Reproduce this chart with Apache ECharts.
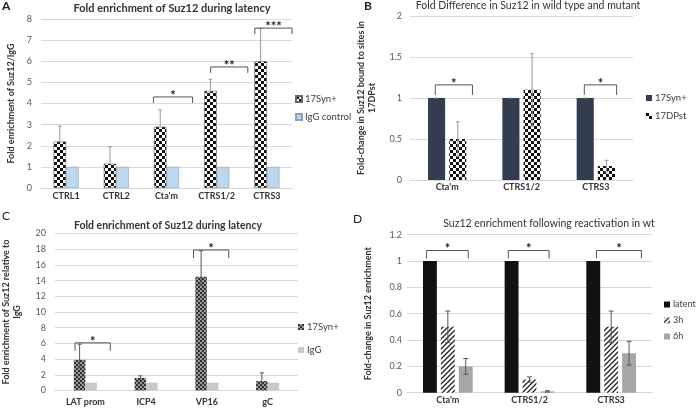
<!DOCTYPE html>
<html><head><meta charset="utf-8">
<script src="https://cdn.jsdelivr.net/npm/echarts@6/dist/echarts.min.js"></script>
<style>html,body{margin:0;padding:0;background:#fff}#c{width:696px;height:411px}</style>
</head><body><div id="c"></div>
<script>
// ---------- DATA ----------
const catsA = ['CTRL1', 'CTRL2', "Cta'm", 'CTRS1/2', 'CTRS3'];
const aSyn = [2.2, 1.15, 2.9, 4.6, 6.0];
const aSynHigh = [2.93, 1.95, 3.7, 5.15, 7.55];
const aIgg = [1, 1, 1, 1, 1];
const aTicks = [0, 8, 1];
const bracketsA = [[2, 4.31, '*'], [3, 5.73, '**'], [4, 7.57, '***']];

const catsB = ["Cta'm", 'CTRS1/2', 'CTRS3'];
const bSyn = [1, 1, 1];
const bDpst = [0.5, 1.1, 0.17];
const bDpstLow = [0.29, 0.66, 0.10];
const bDpstHigh = [0.71, 1.54, 0.24];
const bTicks = [0, 2, 0.5];
const bracketsB = [[0, 1.16, '*'], [2, 1.16, '*']];

const catsC = ['LAT prom', 'ICP4', 'VP16', 'gC'];
const cSyn = [3.9, 1.6, 14.5, 1.2];
const cSynLow = [2.9, 1.3, 13.4, 0.2];
const cSynHigh = [5.9, 1.87, 17.8, 2.25];
const cIgg = [1, 1, 1, 1];
const cTicks = [0, 20, 2];
const bracketsC = [[0, 6.07, '*'], [2, 17.9, '*']];

const catsD = ["Cta'm", 'CTRS1/2', 'CTRS3'];
const dLatent = [1, 1, 1];
const d3h = [0.5, 0.1, 0.5];
const d3hLow = [0.38, 0.08, 0.38];
const d3hHigh = [0.62, 0.12, 0.62];
const d6h = [0.2, 0.01, 0.3];
const d6hLow = [0.14, 0.005, 0.21];
const d6hHigh = [0.26, 0.015, 0.39];
const dTicks = [0, 1.2, 0.2];
const bracketsD = [[0, 1.08, '*'], [1, 1.08, '*'], [2, 1.08, '*']];

// bracket horizontal spans (fraction of category band, relative to centre)
const spanA = [[-0.26, 0.52], [-0.12, 0.62], [-0.24, 0.5]];
const spanB = [[-0.16, 0.34], [-0.155, 0.28]];
const spanC = [[-0.17, 0.41], [-0.22, 0.36]];
const spanD = [[-0.26, 0.25], [-0.26, 0.24], [-0.18, 0.37]];

// ---------- STYLE HELPERS ----------
const FONT = 'Lato';
function checker(a, b, s) {
  const c = document.createElement('canvas'); c.width = c.height = 2 * s;
  const x = c.getContext('2d'); x.fillStyle = a; x.fillRect(0, 0, 2 * s, 2 * s);
  x.fillStyle = b; x.fillRect(0, 0, s, s); x.fillRect(s, s, s, s); return c;
}
function hatch() {
  const s = 5, c = document.createElement('canvas'); c.width = c.height = s;
  const x = c.getContext('2d'); x.fillStyle = '#fff'; x.fillRect(0, 0, s, s);
  x.strokeStyle = '#222'; x.lineWidth = 1.3;
  [[0, s, s, 0], [-1, 1, 1, -1], [s - 1, s + 1, s + 1, s - 1]].forEach(l => {
    x.beginPath(); x.moveTo(l[0], l[1]); x.lineTo(l[2], l[3]); x.stroke();
  });
  return c;
}
const patA = { image: checker('#ffffff', '#111111', 3), repeat: 'repeat' };
const patB = { image: checker('#ffffff', '#111111', 3), repeat: 'repeat' };
const patC = { image: checker('#9a9a9a', '#333333', 2), repeat: 'repeat' };
const patD = { image: hatch(), repeat: 'repeat' };

function errSeries(g, idx, n, wPct, gap, lows, highs, color, bottomCap, cap) {
  return {
    type: 'custom', xAxisIndex: g, yAxisIndex: g, z: 5, silent: true,
    data: lows.map((l, i) => [i, l, highs[i]]),
    encode: { x: 0, y: [1, 2] },
    renderItem: function (params, api) {
      const i = api.value(0), lo = api.value(1), hi = api.value(2);
      const band = api.size([1, 0])[0];
      const w = band * wPct, gg = w * gap, tot = n * w + (n - 1) * gg;
      const pH = api.coord([i, hi]);
      const cx = pH[0] - tot / 2 + idx * (w + gg) + w / 2;
      const yH = pH[1], yL = api.coord([i, lo])[1];
      const st = { stroke: color, lineWidth: 1 };
      const ch = [
        { type: 'line', shape: { x1: cx, y1: yL, x2: cx, y2: yH }, style: st },
        { type: 'line', shape: { x1: cx - cap, y1: yH, x2: cx + cap, y2: yH }, style: st }
      ];
      if (bottomCap) ch.push({ type: 'line', shape: { x1: cx - cap, y1: yL, x2: cx + cap, y2: yL }, style: st });
      return { type: 'group', children: ch };
    }
  };
}
function bracketSeries(g, list, spans, leg) {
  return {
    type: 'custom', xAxisIndex: g, yAxisIndex: g, z: 6, silent: true,
    data: list.map(b => [b[0], b[1]]),
    encode: { x: 0, y: 1 },
    renderItem: function (params, api) {
      const k = params.dataIndex;
      const band = api.size([1, 0])[0];
      const p = api.coord([api.value(0), api.value(1)]);
      const x0 = p[0] + spans[k][0] * band, x1 = p[0] + spans[k][1] * band, y = p[1];
      return { type: 'group', children: [
        { type: 'polyline', shape: { points: [[x0, y + leg], [x0, y], [x1, y], [x1, y + leg]] },
          style: { stroke: '#555', lineWidth: 1, fill: null } },
        { type: 'text', style: { text: list[k][2], x: (x0 + x1) / 2, y: y + 5, textAlign: 'center',
          textVerticalAlign: 'bottom', font: 'bold 13px ' + FONT, fill: '#222' } }
      ] };
    }
  };
}
function xAx(g, data, margin) {
  return { type: 'category', gridIndex: g, data: data, axisTick: { show: false },
    axisLine: { lineStyle: { color: '#d9d9d9' } },
    axisLabel: { margin: margin, fontFamily: FONT, fontWeight: 'bold', fontSize: 9, color: '#333' } };
}
function yAx(g, t, name, gap, margin) {
  return { type: 'value', gridIndex: g, min: t[0], max: t[1], interval: t[2],
    axisLine: { show: false }, axisTick: { show: false },
    splitLine: { lineStyle: { color: '#d9d9d9' } },
    axisLabel: { margin: margin, fontFamily: FONT, fontSize: 9, color: '#595959' },
    name: name, nameLocation: 'middle', nameGap: gap,
    nameTextStyle: { fontFamily: FONT, fontWeight: 'bold', fontSize: 9, color: '#333', lineHeight: 11 } };
}
function bar(g, name, data, color, w, gap, border) {
  return { type: 'bar', name: name, xAxisIndex: g, yAxisIndex: g, data: data, barWidth: w, barGap: gap,
    itemStyle: { color: color, borderColor: border || 'transparent', borderWidth: border ? 0.6 : 0 } };
}
const stripName = { formatter: n => n.split('|')[1] };
function legend(left, top, names, gap, fs) {
  return Object.assign({ orient: 'vertical', left: left, top: top, data: names, itemGap: gap,
    itemWidth: 6, itemHeight: 6, icon: 'rect', padding: 0, selectedMode: false,
    textStyle: { fontFamily: FONT, fontSize: fs, color: '#404040', padding: [0, 0, 0, -2] } }, stripName);
}

const option = {
  animation: false,
  title: [
    { text: 'Fold enrichment of Suz12 during latency', left: 172, top: 3, textAlign: 'center', padding: 0,
      textStyle: { fontFamily: FONT, fontWeight: 'bold', fontSize: 11, color: '#333' } },
    { text: 'Fold Difference in Suz12 in wild type and mutant', left: 528, top: 0, textAlign: 'center', padding: 0,
      textStyle: { fontFamily: FONT, fontWeight: 'normal', fontSize: 10.5, color: '#333' } },
    { text: 'Fold enrichment of Suz12 during latency', left: 168, top: 220, textAlign: 'center', padding: 0,
      textStyle: { fontFamily: FONT, fontWeight: 'bold', fontSize: 10.5, color: '#333' } },
    { text: 'Suz12 enrichment following reactivation in wt', left: 549, top: 218, textAlign: 'center', padding: 0,
      textStyle: { fontFamily: FONT, fontWeight: 'normal', fontSize: 10.5, color: '#333' } },
    { text: 'A', left: 2, top: 0, padding: 0, textStyle: { fontFamily: FONT, fontWeight: 'bold', fontSize: 12, color: '#222' } },
    { text: 'B', left: 364, top: 0, padding: 0, textStyle: { fontFamily: FONT, fontWeight: 'bold', fontSize: 12, color: '#222' } },
    { text: 'C', left: 2, top: 210, padding: 0, textStyle: { fontFamily: FONT, fontWeight: 'normal', fontSize: 12, color: '#222' } },
    { text: 'D', left: 353, top: 213, padding: 0, textStyle: { fontFamily: FONT, fontWeight: 'normal', fontSize: 12, color: '#222' } }
  ],
  grid: [
    { left: 41, top: 19, width: 251, height: 169 },
    { left: 410, top: 16, width: 223, height: 164 },
    { left: 44, top: 233.5, width: 254, height: 157 },
    { left: 407, top: 234.7, width: 245, height: 158 }
  ],
  xAxis: [xAx(0, catsA, 4), xAx(1, catsB, 3), xAx(2, catsC, 7), xAx(3, catsD, 3)],
  yAxis: [
    yAx(0, aTicks, 'Fold enrichment of Suz12/IgG', 24, 9),
    yAx(1, bTicks, 'Fold-change in Suz12 bound to sites in\n17DPst', 32, 8),
    yAx(2, cTicks, 'Fold enrichment of Suz12 relative to\nIgG', 32, 9),
    yAx(3, dTicks, 'Fold-change in Suz12 enrichment', 33, 5)
  ],
  legend: [
    legend(295, 94, ['A|17Syn+', 'A|IgG control'], 8, 9.5),
    legend(646, 93, ['B|17Syn+', 'B|17DPst'], 8, 9.5),
    legend(298, 322, ['C|17Syn+', 'C|IgG'], 13, 9.5),
    legend(664, 300, ['D|latent', 'D|3h', 'D|6h'], 7, 9)
  ],
  series: [
    bar(0, 'A|17Syn+', aSyn, patA, '25%', '0%', '#666'),
    bar(0, 'A|IgG control', aIgg, '#bdd7ee', '25%', '0%', '#8c9fb3'),
    errSeries(0, 0, 2, 0.25, 0, aSyn, aSynHigh, '#999', false, 2),
    bracketSeries(0, bracketsA, spanA, 6),

    bar(1, 'B|17Syn+', bSyn, '#323e4f', '23%', '24%'),
    bar(1, 'B|17DPst', bDpst, patB, '23%', '24%'),
    errSeries(1, 0, 2, 0.23, 0.24, bSyn, bSyn, '#999', false, 2),
    errSeries(1, 1, 2, 0.23, 0.24, bDpstLow, bDpstHigh, '#999', true, 2),
    bracketSeries(1, bracketsB, spanB, 10),

    bar(2, 'C|17Syn+', cSyn, patC, '19%', '0%'),
    bar(2, 'C|IgG', cIgg, '#c8c8c8', '19%', '0%'),
    errSeries(2, 0, 2, 0.19, 0, cSynLow, cSynHigh, '#555', true, 2),
    bracketSeries(2, bracketsC, spanC, 8),

    bar(3, 'D|latent', dLatent, '#111111', '17%', '29%'),
    bar(3, 'D|3h', d3h, patD, '17%', '29%'),
    bar(3, 'D|6h', d6h, '#a6a6a6', '17%', '29%'),
    errSeries(3, 1, 3, 0.17, 0.29, d3hLow, d3hHigh, '#555', true, 2.5),
    errSeries(3, 2, 3, 0.17, 0.29, d6hLow, d6hHigh, '#555', true, 2.5),
    bracketSeries(3, bracketsD, spanD, 8)
  ]
};
const chart = echarts.init(document.getElementById('c'), null, { renderer: 'canvas' });
chart.setOption(option);
</script></body></html>
